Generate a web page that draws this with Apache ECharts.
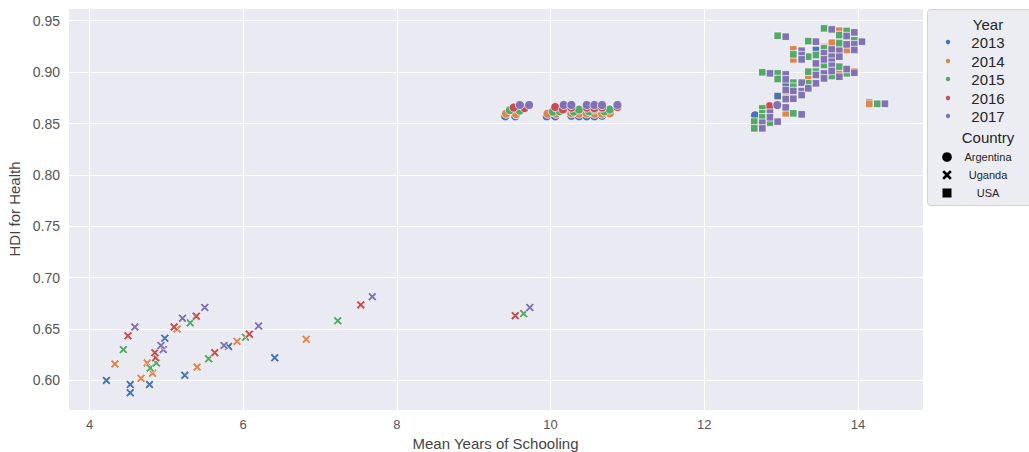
<!DOCTYPE html>
<html>
<head>
<meta charset="utf-8">
<script src="https://cdn.jsdelivr.net/npm/echarts@6/dist/echarts.min.js"></script>
<style>
html,body{margin:0;padding:0;background:#fff;}
#chart{width:1029px;height:452px;}
</style>
</head>
<body>
<div id="chart"></div>
<script>
// ---- data (x = Mean Years of Schooling, y = HDI for Health) ----
const years = ['2013', '2014', '2015', '2016', '2017'];
const countries = ['Argentina', 'Uganda', 'USA'];
const yTicks = [0.60, 0.65, 0.70, 0.75, 0.80, 0.85, 0.90, 0.95];
const xTicks = [4, 6, 8, 10, 12, 14];

const argentina2013 = [[9.41,0.857],[9.54,0.857],[9.95,0.857],[10.06,0.857],[10.27,0.8575],[10.37,0.857],[10.47,0.857],[10.57,0.857],[10.67,0.8575],[12.66,0.858]];
const argentina2014 = [[9.42,0.8595],[9.55,0.859],[9.96,0.8595],[10.07,0.8595],[10.27,0.860],[10.37,0.8595],[10.47,0.8598],[10.57,0.8595],[10.67,0.8595],[10.77,0.8598]];
const argentina2015 = [[9.47,0.863],[9.60,0.8625],[10.03,0.8615],[10.12,0.862],[10.30,0.8615],[10.37,0.8636],[10.50,0.8618],[10.57,0.8636],[10.70,0.8618],[10.77,0.8636]];
const argentina2016 = [[9.52,0.8655],[9.66,0.865],[10.06,0.866],[10.16,0.8636],[10.27,0.8655],[10.47,0.8655],[10.57,0.865],[10.67,0.8655],[10.87,0.866],[12.85,0.8668]];
const argentina2017 = [[9.60,0.868],[9.72,0.868],[10.17,0.868],[10.27,0.868],[10.47,0.868],[10.57,0.868],[10.67,0.868],[10.87,0.868],[12.95,0.868]];

const uganda2013 = [[4.22,0.600],[4.53,0.596],[4.53,0.588],[4.78,0.596],[4.98,0.641],[5.24,0.605],[5.81,0.633],[6.41,0.622]];
const uganda2014 = [[4.33,0.616],[4.67,0.602],[4.82,0.607],[4.75,0.617],[5.14,0.650],[5.40,0.613],[5.92,0.638],[6.82,0.640]];
const uganda2015 = [[4.44,0.630],[4.79,0.612],[4.87,0.617],[5.31,0.656],[5.55,0.621],[6.03,0.642],[7.23,0.658],[9.65,0.665]];
const uganda2016 = [[4.50,0.6434],[4.86,0.622],[4.85,0.627],[5.10,0.652],[5.39,0.6625],[5.63,0.627],[6.08,0.645],[7.53,0.6735],[9.54,0.663]];
const uganda2017 = [[4.59,0.652],[4.96,0.630],[4.93,0.634],[5.21,0.6605],[5.50,0.671],[5.75,0.634],[6.20,0.653],[7.68,0.6815],[9.73,0.671]];

const usa2013 = [[13.06,0.8874],[12.955,0.8767],[13.453,0.9215],[14.147,0.8705],[13.757,0.9295],[13.558,0.9150]];
const usa2014 = [[13.158,0.9221],[13.158,0.9124],[13.353,0.8939],[13.06,0.8599],[13.658,0.9286],[13.757,0.9403],[13.757,0.9004],[13.853,0.9215],[13.952,0.9008],[14.147,0.8692],[13.558,0.9245],[13.453,0.9062]];
const usa2015 = [[12.955,0.9354],[13.353,0.9302],[13.158,0.9173],[13.353,0.9150],[12.755,0.8998],[12.955,0.8988],[12.955,0.8933],[13.158,0.8897],[13.158,0.8858],[13.158,0.8777],[13.353,0.9004],[13.353,0.8891],[13.06,0.8767],[12.755,0.8647],[12.755,0.8599],[12.755,0.8560],[12.855,0.8508],[13.158,0.8599],[12.65,0.8518],[12.65,0.8453],[13.558,0.9426],[13.757,0.9361],[13.853,0.9400],[13.558,0.9231],[13.757,0.9280],[13.952,0.9312],[13.558,0.9069],[13.658,0.8962],[13.757,0.9053],[13.853,0.8988],[14.251,0.8692],[13.453,0.9004],[13.453,0.9166]];
const usa2016 = [[13.267,0.9195],[13.658,0.9135],[13.558,0.8975],[13.06,0.8815],[12.855,0.8595]];
const usa2017 = [[13.06,0.9345],[13.453,0.9296],[13.267,0.9208],[13.267,0.9166],[13.267,0.9124],[13.453,0.9085],[12.855,0.8988],[13.06,0.8978],[13.06,0.8930],[13.06,0.8826],[13.158,0.8816],[13.158,0.8741],[13.267,0.8897],[13.267,0.8816],[13.267,0.8777],[13.353,0.8842],[13.453,0.8972],[13.453,0.8891],[13.06,0.8738],[12.755,0.8508],[12.755,0.8453],[12.855,0.8605],[12.855,0.8560],[12.955,0.8518],[13.06,0.8657],[13.267,0.8589],[13.658,0.9416],[13.853,0.9351],[13.952,0.9387],[14.052,0.9296],[13.558,0.9183],[13.558,0.9124],[13.558,0.8988],[13.558,0.8939],[13.658,0.9221],[13.658,0.9150],[13.658,0.9101],[13.658,0.9062],[13.658,0.9011],[13.757,0.9208],[13.757,0.9150],[13.757,0.8955],[13.853,0.9270],[13.853,0.9030],[13.952,0.9270],[13.952,0.9215],[13.952,0.8994],[14.351,0.8692]];

// ---- styles ----
const palette = ['#4C72B0', '#DD8452', '#55A868', '#C44E52', '#8172B3'];
const xPts = [[-1.8,-3],[0,-1.2],[1.8,-3],[3,-1.8],[1.2,0],[3,1.8],[1.8,3],[0,1.2],[-1.8,3],[-3,1.8],[-1.2,0],[-3,-1.8]];
const xPath = 'path://M' + xPts.map(function (p) { return p[0] + ',' + p[1]; }).join('L') + 'Z';
const symbolOf = {Argentina: 'circle', Uganda: xPath, USA: 'rect'};
const sizeOf = {Argentina: 9, Uganda: 9, USA: 7.5};
const dataOf = {
  Argentina: [argentina2013, argentina2014, argentina2015, argentina2016, argentina2017],
  Uganda: [uganda2013, uganda2014, uganda2015, uganda2016, uganda2017],
  USA: [usa2013, usa2014, usa2015, usa2016, usa2017]
};

const series = [];
countries.forEach(function (c) {
  years.forEach(function (yr, i) {
    series.push({
      type: 'scatter',
      name: c + ' ' + yr,
      data: dataOf[c][i],
      symbol: symbolOf[c],
      symbolSize: sizeOf[c],
      itemStyle: {color: palette[i], borderColor: '#ffffff', borderWidth: 0.7, opacity: 1},
      emphasis: {disabled: true},
      silent: true,
      animation: false
    });
  });
});

const FONT = '"Liberation Sans", Arial, sans-serif';
const TXT = '#262626';
const legendX = 988;
const graphic = [
  {type: 'rect', shape: {x: 927.5, y: 9.5, width: 120, height: 196, r: 3},
   style: {fill: '#ececf3', stroke: '#d2d2d8', lineWidth: 1}, z: 10},
  {type: 'text', style: {text: 'Year', x: legendX, y: 24, textAlign: 'center', textVerticalAlign: 'middle', font: '15px ' + FONT, fill: TXT}, z: 11},
  {type: 'text', style: {text: 'Country', x: legendX, y: 137, textAlign: 'center', textVerticalAlign: 'middle', font: '15px ' + FONT, fill: TXT}, z: 11}
];
const yearRows = [42, 61, 79, 98, 116];
years.forEach(function (yr, i) {
  graphic.push({type: 'circle', shape: {cx: 948, cy: yearRows[i], r: 2.2}, style: {fill: palette[i]}, z: 11});
  graphic.push({type: 'text', style: {text: yr, x: legendX, y: yearRows[i], textAlign: 'center', textVerticalAlign: 'middle', font: '15px ' + FONT, fill: TXT}, z: 11});
});
const countryRows = [157, 175, 193];
graphic.push({type: 'circle', shape: {cx: 947, cy: countryRows[0], r: 4.8}, style: {fill: '#000'}, z: 11});
graphic.push({type: 'polygon', shape: {points: xPts.map(function (p) { return [947 + p[0] * 1.6, countryRows[1] + p[1] * 1.6]; })}, style: {fill: '#000'}, z: 11});
graphic.push({type: 'rect', shape: {x: 942.5, y: countryRows[2] - 4.5, width: 9, height: 9}, style: {fill: '#000'}, z: 11});
countries.forEach(function (c, i) {
  graphic.push({type: 'text', style: {text: c, x: legendX, y: countryRows[i], textAlign: 'center', textVerticalAlign: 'middle', font: '11px ' + FONT, fill: TXT}, z: 11});
});

const chart = echarts.init(document.getElementById('chart'), null, {renderer: 'svg', width: 1029, height: 452});
chart.setOption({
  animation: false,
  backgroundColor: '#ffffff',
  grid: {left: 68, right: 106, top: 8, bottom: 42, show: true, backgroundColor: '#eaeaf2', borderWidth: 0,
         containLabel: false, outerBoundsMode: 'none'},
  xAxis: {
    type: 'value', min: 3.72, max: 14.846, minInterval: 2, maxInterval: 2,
    name: 'Mean Years of Schooling', nameLocation: 'middle', nameGap: 23,
    nameTextStyle: {fontFamily: FONT, fontSize: 15, color: '#444'},
    axisLine: {show: false}, axisTick: {show: false},
    axisLabel: {margin: 8, fontFamily: FONT, fontSize: 13, color: '#555',
      showMinLabel: false, showMaxLabel: false,
      formatter: function (v) { return xTicks.indexOf(Math.round(v * 1000) / 1000) >= 0 ? String(v) : ''; }},
    splitLine: {show: true, lineStyle: {color: '#ffffff', width: 1}}
  },
  yAxis: {
    type: 'value', min: 0.5712, max: 0.9624, minInterval: 0.05, maxInterval: 0.05,
    name: 'HDI for Health', nameLocation: 'middle', nameGap: 43,
    nameTextStyle: {fontFamily: FONT, fontSize: 15, color: '#444'},
    axisLine: {show: false}, axisTick: {show: false},
    axisLabel: {margin: 8, fontFamily: FONT, fontSize: 14, color: '#555',
      showMinLabel: false, showMaxLabel: false,
      formatter: function (v) { const r = Math.round(v * 100) / 100; return yTicks.indexOf(r) >= 0 ? r.toFixed(2) : ''; }},
    splitLine: {show: true, lineStyle: {color: '#ffffff', width: 1}}
  },
  graphic: graphic,
  series: series
});
</script>
</body>
</html>
